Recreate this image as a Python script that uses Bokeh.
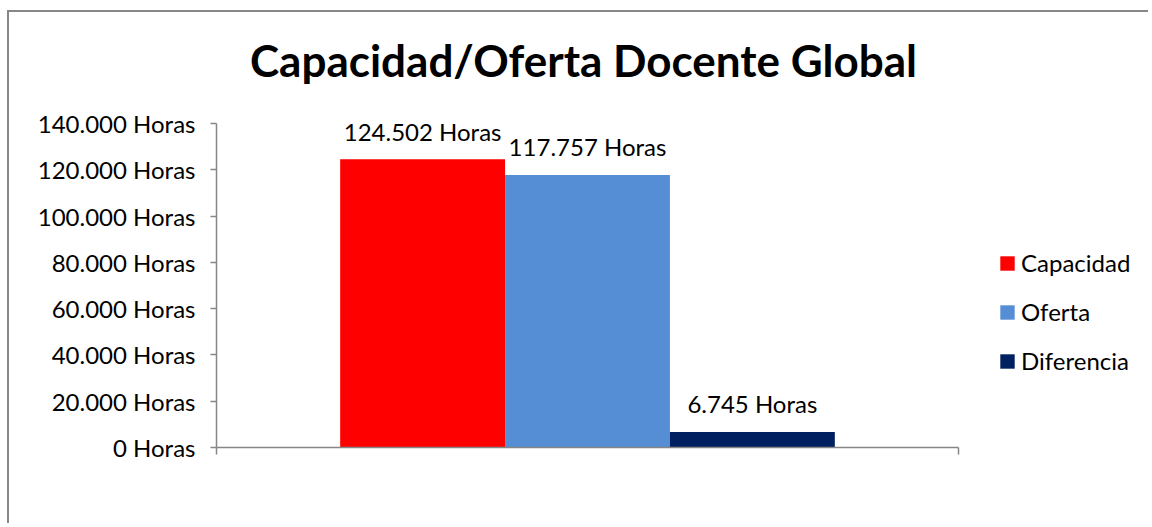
from bokeh.plotting import figure
from bokeh.models import Range1d, FixedTicker, ColumnDataSource, Legend, LegendItem, Label
from bokeh.embed import file_html
from bokeh.resources import INLINE

# ---- data ----
series = ["Capacidad", "Oferta", "Diferencia"]
values = [124502, 117757, 6745]
value_labels = ["124.502 Horas", "117.757 Horas", "6.745 Horas"]
colors = ["#FF0000", "#558ED5", "#002060"]
y_ticks = [0, 20000, 40000, 60000, 80000, 100000, 120000, 140000]
y_tick_labels = ["0 Horas", "20.000 Horas", "40.000 Horas", "60.000 Horas",
                 "80.000 Horas", "100.000 Horas", "120.000 Horas", "140.000 Horas"]
title_text = "Capacidad/Oferta Docente Global"

FONT = "Lato"
Y_MAX = y_ticks[-1]

# clustered-bar layout inside the single category (gap width 150%)
n = len(series)
bar_w = 1.0 / (n + 1.5)
start = 0.75 * bar_w
xs = [start + bar_w * (i + 0.5) for i in range(n)]

src = ColumnDataSource(dict(x=xs, top=values, color=colors, label=value_labels, name=series))

# layout (pixels)
CAT_PX = 742.0     # width of the category on screen
AXIS_PX = 324.0    # height of 0..Y_MAX on screen
FIG_W, FIG_H = 1141, 513
BL, BT, BB, BR = 207, 0, 78, 0
frame_w = FIG_W - BL - BR
frame_h = FIG_H - BT - BB
x_end = frame_w / CAT_PX
y_end = Y_MAX * frame_h / AXIS_PX

p = figure(width=FIG_W, height=FIG_H, output_backend="svg", toolbar_location=None,
           x_range=Range1d(0, x_end), y_range=Range1d(0, y_end),
           min_border_left=BL, min_border_right=BR, min_border_top=BT, min_border_bottom=BB,
           background_fill_color="white", border_fill_color="white",
           styles={"margin-left": "7px", "margin-top": "10px",
                   "border-left": "2px solid #878787", "border-top": "2px solid #878787"})
p.outline_line_color = None
p.grid.visible = False

# title placed above the value axis
title = Label(x=(583 - 216) / CAT_PX, y=Y_MAX * 388 / AXIS_PX, text=title_text,
              text_font=FONT, text_font_style="bold", text_font_size="44px",
              text_color="black", text_align="center", text_baseline="alphabetic")
p.add_layout(title)

rend = []
for i in range(n):
    r = p.vbar(x=[xs[i]], top=[values[i]], width=bar_w, bottom=0,
               fill_color=colors[i], line_color=None)
    rend.append(r)

p.text(x="x", y="top", text="label", source=src, text_align="center",
       text_baseline="alphabetic", y_offset=-28, text_font_size="24px",
       text_font={"value": FONT}, text_color="black")

# y axis
ya = p.yaxis[0]
ya.ticker = FixedTicker(ticks=y_ticks)
ya.bounds = (0, Y_MAX)
ya.major_label_overrides = {t: l for t, l in zip(y_ticks, y_tick_labels)}
ya.major_label_text_font = FONT
ya.major_label_text_font_size = "24px"
ya.major_label_text_color = "black"
ya.axis_line_color = "#868686"
ya.axis_line_width = 1.5
ya.major_tick_line_color = "#868686"
ya.major_tick_line_width = 1.5
ya.major_tick_in = 0
ya.major_tick_out = 6
ya.minor_tick_line_color = None
ya.major_label_standoff = 15

# x axis (only across the category)
xa = p.xaxis[0]
xa.ticker = FixedTicker(ticks=[0, 1])
xa.bounds = (0, 1)
xa.major_label_text_font_size = "0px"
xa.major_label_text_color = None
xa.axis_line_color = "#868686"
xa.axis_line_width = 1.5
xa.major_tick_line_color = "#868686"
xa.major_tick_line_width = 1.5
xa.major_tick_in = 0
xa.major_tick_out = 7
xa.minor_tick_line_color = None

legend = Legend(items=[LegendItem(label=series[i], renderers=[rend[i]]) for i in range(n)],
                location=(782, 72), orientation="vertical",
                glyph_width=18, glyph_height=18, label_height=18, spacing=20,
                label_standoff=5, padding=0, margin=0,
                border_line_color=None, background_fill_alpha=0,
                label_text_font=FONT, label_text_font_size="24px",
                label_text_color="black", label_text_baseline="middle")
p.add_layout(legend, "center")

open("out.html", "w").write(file_html(p, INLINE))
